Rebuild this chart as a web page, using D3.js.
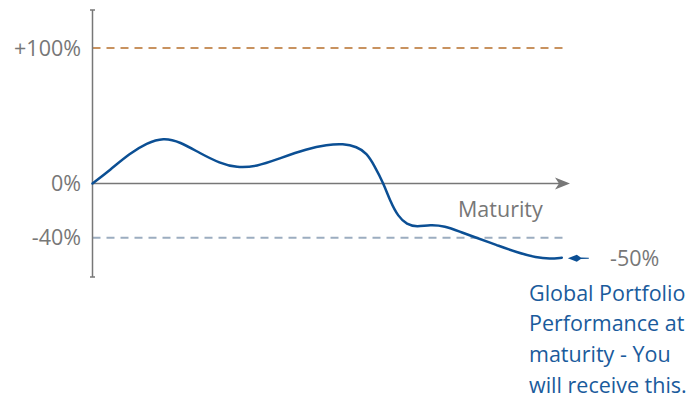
<!DOCTYPE html>
<html><head><meta charset="utf-8">
<script src="https://cdn.jsdelivr.net/npm/d3@7/dist/d3.min.js"></script>
<style>
html,body{margin:0;padding:0;background:#fff;}
svg{display:block;font-family:"Open Sans",sans-serif;}
</style></head>
<body>
<svg id="chart" width="692" height="399"></svg>
<script>
// Data (maturity progress 0..100, performance %)
const timeX = [0, 3.7, 7.9, 11.4, 14.9, 18.4, 22.6, 26.8, 30.3, 34.5, 39.4, 45.1, 49.3, 52.7, 55.6, 57.7, 59.2, 61.2, 62.6, 64.3, 66.1, 68.2, 71.0, 74.1, 77.3, 80.1, 85.0, 89.2, 93.4, 96.2, 98.7];
const perfY = [0, 10.0, 22.3, 29.7, 33.8, 30.8, 22.3, 14.9, 11.6, 12.4, 18.6, 25.5, 28.6, 29.4, 27.2, 22.3, 13.7, 0.2, -13.0, -24.5, -30.2, -32.1, -30.4, -31.4, -35.6, -39.3, -45.4, -50.8, -54.8, -55.6, -54.8];
const upperBarrier = 100;
const lowerBarrier = -40;
const tickValues = [100, 0, -40];
const tickLabels = ["+100%", "0%", "-40%"];
const finalLabel = "-50%";
const xAxisLabel = "Maturity";
const noteLines = ["Global Portfolio", "Performance at", "maturity - You", "will receive this."];

const svg = d3.select("#chart");
const x = d3.scaleLinear().domain([0, 100]).range([92.5, 568]);
const y = d3.scaleLinear().domain([-69, 128]).range([277, 10]);

const grey = "#777777";
const blue = "#0b4f94";
const fs = 21.5;

// Barriers
svg.append("line").attr("x1", x(0)).attr("x2", x(100)).attr("y1", y(upperBarrier)).attr("y2", y(upperBarrier))
  .attr("stroke", "#c8925f").attr("stroke-width", 2).attr("stroke-dasharray", "8,6");
svg.append("line").attr("x1", x(0)).attr("x2", x(100)).attr("y1", y(lowerBarrier)).attr("y2", y(lowerBarrier))
  .attr("stroke", "#9cadc0").attr("stroke-width", 2).attr("stroke-dasharray", "8,6");

// Y axis
svg.append("line").attr("x1", x(0)).attr("x2", x(0)).attr("y1", y(128)).attr("y2", y(-69))
  .attr("stroke", grey).attr("stroke-width", 1.5);
[128, -69].forEach(v => svg.append("line").attr("x1", x(0) - 2.5).attr("x2", x(0) + 2.5)
  .attr("y1", y(v)).attr("y2", y(v)).attr("stroke", grey).attr("stroke-width", 1.5));

// X axis with arrow
svg.append("line").attr("x1", x(0)).attr("x2", x(100) - 4).attr("y1", y(0)).attr("y2", y(0))
  .attr("stroke", grey).attr("stroke-width", 1.5);
const ax = x(100), ay = y(0);
svg.append("path").attr("d", `M${ax+2},${ay} L${ax-13},${ay-6} L${ax-9},${ay} L${ax-13},${ay+6} Z`)
  .attr("fill", grey);

// Tick labels
svg.selectAll("text.tick").data(tickValues).enter().append("text")
  .attr("class", "tick").attr("x", 81).attr("y", d => y(d)).attr("dy", "0.36em")
  .attr("text-anchor", "end").attr("font-size", fs).attr("fill", grey)
  .text((d, i) => tickLabels[i]);

svg.append("text").attr("x", 458).attr("y", y(0) + 26).attr("dy", "0.36em")
  .attr("font-size", fs).attr("fill", grey).text(xAxisLabel);

// Curve
const pts = timeX.map((t, i) => [t, perfY[i]]);
const line = d3.line().x(d => x(d[0])).y(d => y(d[1])).curve(d3.curveBasis);
svg.append("path").datum(pts).attr("d", line).attr("fill", "none")
  .attr("stroke", blue).attr("stroke-width", 2.5).attr("stroke-linecap", "round");

// End marker
const ex = x(timeX[timeX.length - 1]) + 6, ey = y(perfY[perfY.length - 1]) + 0.5;
svg.append("path")
  .attr("d", `M${ex},${ey} L${ex+9},${ey-3.5} L${ex+13},${ey-0.8} L${ex+21},${ey-0.6} L${ex+21},${ey+0.6} L${ex+13},${ey+0.8} L${ex+9},${ey+3.5} Z`)
  .attr("fill", blue);

svg.append("text").attr("x", 610).attr("y", ey).attr("dy", "0.36em")
  .attr("font-size", fs).attr("fill", grey).text(finalLabel);

// Note
svg.selectAll("text.note").data(noteLines).enter().append("text")
  .attr("class", "note").attr("x", 529).attr("y", (d, i) => 293 + i * 30.7).attr("dy", "0.36em")
  .attr("font-size", fs).attr("fill", "#1a5b9c").text(d => d);
</script>
</body></html>
